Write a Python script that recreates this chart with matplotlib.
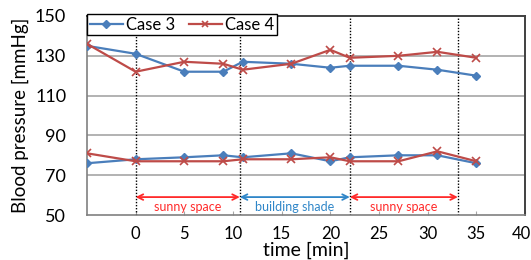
import matplotlib
matplotlib.use("Agg")
import matplotlib.pyplot as plt
from matplotlib.lines import Line2D
from matplotlib.transforms import ScaledTranslation

plt.rcParams['font.family'] = ['Lato', 'DejaVu Sans']

time = [-5, 0, 5, 9, 11, 16, 20, 22, 27, 31, 35]
case3_sys = [135, 131, 122, 122, 127, 126, 124, 125, 125, 123, 120]
case4_sys = [136, 122, 127, 126, 123, 126, 133, 129, 130, 132, 129]
case3_dia = [76, 78, 79, 80, 79, 81, 77, 79, 80, 80, 76]
case4_dia = [81, 77, 77, 77, 78, 78, 79, 77, 77, 82, 77]

phase_bounds = [0, 10.7, 22, 33.1]
phase_labels = ["sunny space", "building shade", "sunny space"]
phase_colors = ["#FF2A2A", "#2F86C8", "#FF2A2A"]

xticks = [0, 5, 10, 15, 20, 25, 30, 35, 40]
yticks = [50, 70, 90, 110, 130, 150]

blue = "#4A7EBB"
red = "#BE4B48"

fig = plt.figure(figsize=(5.31, 2.60), dpi=100)
ax = fig.add_axes([87/531, 45/260, 438/531, 199/260])

for yv in [70, 90, 110, 130]:
    ax.axhline(yv, color="#A6A6A6", lw=1.2, zorder=1)

for xb in phase_bounds:
    ax.axvline(xb, color="black", lw=1.0, ls=(0, (1, 1.2)), zorder=2)

ax.plot(time, case3_sys, color=blue, lw=1.6, marker="D", ms=4.5, zorder=4)
ax.plot(time, case3_dia, color=blue, lw=1.6, marker="D", ms=4.5, zorder=4)
ax.plot(time, case4_sys, color=red, lw=1.6, marker="x", ms=6, mew=1.2, zorder=5)
ax.plot(time, case4_dia, color=red, lw=1.6, marker="x", ms=6, mew=1.2, zorder=5)

for i, lab in enumerate(phase_labels):
    x0, x1 = phase_bounds[i], phase_bounds[i + 1]
    ax.annotate("", xy=(x0, 59), xytext=(x1, 59),
                arrowprops=dict(arrowstyle="<->", color=phase_colors[i], lw=1.3,
                                shrinkA=0, shrinkB=0, mutation_scale=10))
    ax.text((x0 + x1) / 2, 54, lab, color=phase_colors[i], fontsize=9,
            ha="center", va="center")

ax.set_xlim(-5, 40)
ax.set_ylim(50, 150)
ax.set_xticks(xticks)
ax.set_yticks(yticks)
ax.tick_params(axis="y", length=0, pad=15, labelsize=13)
ax.tick_params(axis="x", direction="in", length=3, color="#A6A6A6", pad=8, labelsize=12)

# keep the last x tick label inside the figure
last = ax.get_xticklabels()[-1]
last.set_transform(last.get_transform() + ScaledTranslation(-4/100, 0, fig.dpi_scale_trans))

for s in ["left", "bottom"]:
    ax.spines[s].set_color("#808080")
    ax.spines[s].set_linewidth(1.2)
for s in ["top", "right"]:
    ax.spines[s].set_color("#404040")
    ax.spines[s].set_linewidth(1.4)

ax.set_xlabel("time [min]", fontsize=14, labelpad=0)
ax.set_ylabel("Blood pressure [mmHg]", fontsize=13.5, labelpad=4)

handles = [Line2D([], [], color=blue, lw=1.6, marker="D", ms=4),
           Line2D([], [], color=red, lw=1.6, marker="x", ms=5, mew=1.2)]
leg = ax.legend(handles, ["Case 3", "Case 4"], loc="upper left",
                bbox_to_anchor=(0.0, 1.01), ncol=2, fontsize=12, frameon=True,
                fancybox=False, edgecolor="black", framealpha=1,
                handlelength=2.0, handletextpad=0.2, columnspacing=0.8,
                borderpad=0.15, borderaxespad=0)
leg.get_frame().set_linewidth(1.0)
leg.set_zorder(10)

fig.savefig("out.png", dpi=100)
